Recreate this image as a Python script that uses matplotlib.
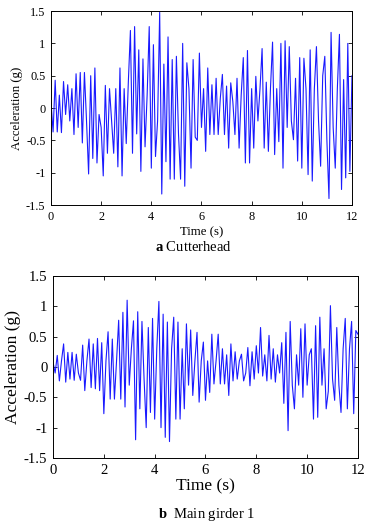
import numpy as np
import matplotlib
matplotlib.use('Agg')
import matplotlib.pyplot as plt

plt.rcParams['font.family'] = ['Liberation Serif', 'DejaVu Serif']
plt.rcParams['mathtext.fontset'] = 'custom'
plt.rcParams['mathtext.bf'] = 'Liberation Serif:bold'
plt.rcParams['mathtext.rm'] = 'Liberation Serif'

# sample step of the traces (s)
dt = 1.0 / 12

# a Cutterhead acceleration (g), one row per second
cutterhead = [
    0.10, -0.37, 0.43, -0.37, 0.20, -0.38, 0.41, -0.10, 0.36, -0.20, 0.30, -0.41,
    0.53, -0.30, 0.55, -0.54, 0.55, -0.20, -1.02, 0.50, -0.78, 0.62, -0.85, -0.10,
    -0.30, -1.05, 0.35, -0.70, 0.30, -0.20, -0.70, 0.30, -0.91, 0.62, -1.05, 0.30,
    -0.55, 0.40, 1.20, -0.70, 1.26, -0.40, 0.90, -0.98, 0.76, -0.60, 0.20, 1.26,
    -0.93, 0.98, -0.75, -0.20, 1.48, -1.33, 0.68, -0.83, 1.10, -1.10, 0.75, -1.10,
    0.80, -0.40, -1.10, 1.00, -1.21, 0.70, 0.30, -0.93, 0.75, -0.45, -0.50, 0.85,
    -0.30, 0.30, -0.67, 0.62, -0.41, 0.36, -0.41, 0.46, -0.41, 0.15, 0.52, -0.41,
    0.34, -0.62, 0.39, 0.10, -0.41, 0.46, -0.62, 0.20, 0.78, -0.85, 0.89, -0.85,
    0.30, -0.62, 0.49, -0.20, 0.30, 0.92, -0.62, 0.40, -0.67, 0.30, 1.02, -0.72,
    0.30, -0.52, 1.00, -0.93, 1.04, -0.30, 0.95, -0.20, -0.49, 0.46, -0.82, 0.78,
    -0.93, 0.77, 0.30, -1.03, 0.90, -1.13, 0.30, 0.95, -0.20, -0.90, 0.50, 0.80,
    -0.50, -1.40, 1.17, -0.30, -0.93, 0.30, 1.14, -1.26, 0.44, -1.08, 1.00, -0.98,
    0.50,
]

# b Main girder 1 acceleration (g), one row per second
girder = [
    0.08, -0.10, 0.19, -0.23, 0.10, 0.38, -0.25, 0.24, -0.20, 0.24, -0.22, 0.21,
    -0.10, -0.22, 0.36, -0.39, 0.10, 0.46, -0.34, 0.38, -0.36, 0.47, -0.39, 0.40,
    -0.77, 0.10, 0.58, -0.53, 0.46, -0.53, 0.10, 0.77, -0.53, 0.90, -0.66, 1.10,
    -0.30, 0.30, 0.76, -1.20, 0.91, -0.69, 0.75, -0.20, -1.00, 0.65, -0.75, 0.80,
    -0.86, 0.30, 1.08, -1.00, 0.87, -1.16, 0.74, -1.23, 0.30, 0.82, -0.86, 0.74,
    -0.86, 0.30, -0.69, 0.71, -0.30, 0.61, -0.47, 0.10, 0.57, -0.58, 0.10, 0.41,
    -0.55, 0.10, -0.42, 0.54, -0.28, 0.10, 0.54, -0.28, 0.30, -0.28, 0.20, -0.47,
    0.38, -0.23, 0.25, -0.20, 0.10, 0.21, -0.23, -0.10, 0.32, -0.31, 0.25, -0.20,
    0.35, -0.10, 0.65, -0.15, 0.20, -0.23, 0.52, -0.20, 0.30, -0.25, 0.20, -0.10,
    0.40, -0.60, 0.57, -1.05, 0.75, -0.30, -0.69, 0.20, -0.30, 0.63, -0.50, 0.71,
    -0.30, 0.20, 0.30, -0.86, 0.68, -0.83, 0.82, -0.30, 0.30, -0.69, -0.40, 1.01,
    -0.20, -0.55, 0.65, -0.30, -0.75, 0.30, 0.80, -0.69, 0.30, 0.75, -0.77, 0.60,
    0.54,
]

xticks = [0, 2, 4, 6, 8, 10, 12]
yticks = [-1.5, -1, -0.5, 0, 0.5, 1, 1.5]
yticklabels = ['-1.5', '-1', '-0.5', '0', '0.5', '1', '1.5']

t1 = np.arange(len(cutterhead)) * dt
t2 = np.arange(len(girder)) * dt

fig = plt.figure(figsize=(3.76, 5.27), dpi=100)
ax1 = fig.add_axes([0.1356, 0.611, 0.8005, 0.368])
ax2 = fig.add_axes([0.141, 0.131, 0.811, 0.3454])

for ax, t, y, fs, lfs, lp in [(ax1, t1, cutterhead, 8.8, 9.2, 3), (ax2, t2, girder, 10.6, 12.6, 1)]:
    ax.plot(t, y, color=(0.1, 0.1, 1.0), linewidth=0.8)
    ax.set_xlim(0, 12)
    ax.set_ylim(-1.5, 1.5)
    ax.set_xticks(xticks)
    ax.set_yticks(yticks)
    ax.set_yticklabels(yticklabels)
    ax.tick_params(direction='in', top=True, right=True, length=3, width=0.6,
                   labelsize=fs, pad=4)
    for s in ax.spines.values():
        s.set_linewidth(0.7)
    ax.set_xlabel('Time (s)', fontsize=lfs, labelpad=lp)
    ax.set_ylabel('Acceleration (g)', fontsize=lfs, labelpad=2)

fig.text(0.515, 0.531, r'$\mathbf{a}$ Cutterhead', ha='center', va='center', fontsize=10.5)
fig.text(0.55, 0.023, r'$\mathbf{b}$  Main girder 1', ha='center', va='center', fontsize=10.5)

fig.savefig('out.png', dpi=100)
